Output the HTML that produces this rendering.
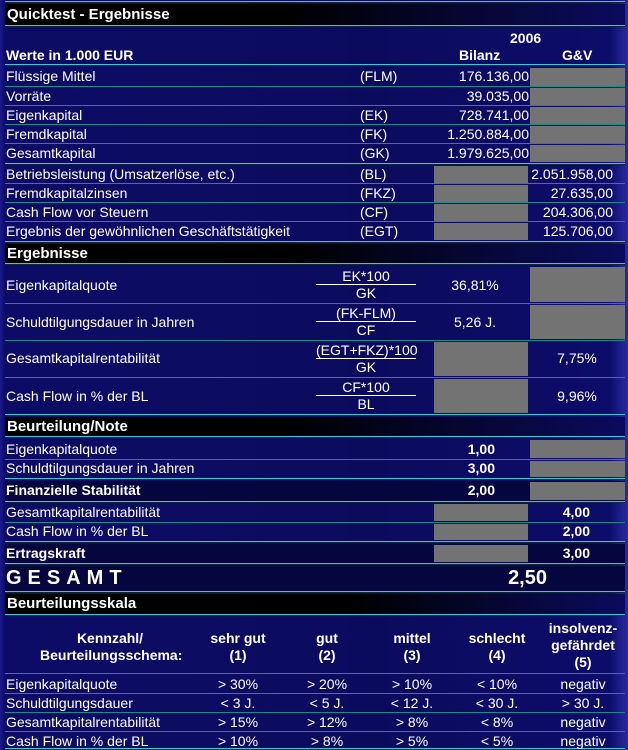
<!DOCTYPE html>
<html><head><meta charset="utf-8"><style>
*{margin:0;padding:0;box-sizing:border-box}
body{width:628px;height:750px;overflow:hidden;background:linear-gradient(90deg,#1a1a8a 0,#0c0c66 5px,#0b0b5e 60%,#0c0c6a 97%,#2a2aa0 100%);font-family:"Liberation Sans",Arial,sans-serif;color:#fff;position:relative}
div{position:absolute}
.c{left:5px;width:620px;height:2px;background:#3cc6d6;border-bottom:1px solid #06263a}
.t{left:5px;width:620px;height:1px;background:#1c8a8a}
.h{left:5px;width:620px;background:linear-gradient(90deg,#000 0,#000 45%,#0b0b5e 100%);font-weight:bold;font-size:15px;padding-left:2px}
.d{left:5px;width:620px;background:#06063e}
.l{left:6px;font-size:14px;white-space:nowrap}
.b{font-weight:bold}
.a{left:360px;font-size:14px}
.r1{right:99px;font-size:14px;text-align:right}
.r2{right:15px;font-size:14px;text-align:right}
.g{background:#737373}
.g1{left:434px;width:94px}
.g2{left:530px;width:95px}
.fr{left:316px;width:100px;text-align:center;font-size:14px;line-height:16px}
.fr span{display:block}
.fr span:first-child{border-bottom:1px solid #fff}
.cc{text-align:center;font-size:14px}
</style></head><body>
<div class="c" style="top:1px"></div>
<div class="h" style="top:4px;height:21px;line-height:21px">Quicktest - Ergebnisse</div>
<div class="c" style="top:25px"></div>
<div class="b" style="left:510px;top:30px;font-size:14px">2006</div>
<div class="b" style="left:6px;top:47px;font-size:14px">Werte in 1.000 EUR</div>
<div class="b" style="left:459px;top:47px;font-size:14px">Bilanz</div>
<div class="b" style="left:562px;top:47px;font-size:14px">G&amp;V</div>
<div class="c" style="top:64px"></div>

<!-- Bilanz rows -->
<div class="g g2" style="top:68px;height:18px"></div>
<div class="g g2" style="top:88px;height:17px"></div>
<div class="g g2" style="top:107px;height:17px"></div>
<div class="g g2" style="top:126px;height:17px"></div>
<div class="g g2" style="top:145px;height:17px"></div>
<div class="t" style="top:86px"></div><div class="t" style="top:105px"></div><div class="t" style="top:124px"></div><div class="t" style="top:143px"></div>
<div class="l" style="top:68px">Flüssige Mittel</div><div class="a" style="top:68px">(FLM)</div><div class="r1" style="top:68px">176.136,00</div>
<div class="l" style="top:88px">Vorräte</div><div class="r1" style="top:88px">39.035,00</div>
<div class="l" style="top:107px">Eigenkapital</div><div class="a" style="top:107px">(EK)</div><div class="r1" style="top:107px">728.741,00</div>
<div class="l" style="top:126px">Fremdkapital</div><div class="a" style="top:126px">(FK)</div><div class="r1" style="top:126px">1.250.884,00</div>
<div class="l" style="top:145px">Gesamtkapital</div><div class="a" style="top:145px">(GK)</div><div class="r1" style="top:145px">1.979.625,00</div>
<div class="c" style="top:163px"></div>

<div class="g g1" style="top:166px;height:17px"></div>
<div class="g g1" style="top:185px;height:17px"></div>
<div class="g g1" style="top:204px;height:17px"></div>
<div class="g g1" style="top:223px;height:17px"></div>
<div class="t" style="top:183px"></div><div class="t" style="top:202px"></div><div class="t" style="top:221px"></div>
<div class="l" style="top:166px">Betriebsleistung (Umsatzerlöse, etc.)</div><div class="a" style="top:166px">(BL)</div><div class="r2" style="top:166px">2.051.958,00</div>
<div class="l" style="top:185px">Fremdkapitalzinsen</div><div class="a" style="top:185px">(FKZ)</div><div class="r2" style="top:185px">27.635,00</div>
<div class="l" style="top:204px">Cash Flow vor Steuern</div><div class="a" style="top:204px">(CF)</div><div class="r2" style="top:204px">204.306,00</div>
<div class="l" style="top:223px">Ergebnis der gewöhnlichen Geschäftstätigkeit</div><div class="a" style="top:223px">(EGT)</div><div class="r2" style="top:223px">125.706,00</div>
<div class="c" style="top:241px"></div>

<div class="h" style="top:244px;height:19px;line-height:19px">Ergebnisse</div>
<div class="c" style="top:263px"></div>
<div class="g g2" style="top:267px;height:35px"></div>
<div class="g g2" style="top:305px;height:34px"></div>
<div class="g g1" style="top:342px;height:34px"></div>
<div class="g g1" style="top:379px;height:34px"></div>
<div class="t" style="top:303px"></div><div class="t" style="top:340px"></div><div class="t" style="top:377px"></div>
<div class="l" style="top:277px">Eigenkapitalquote</div><div class="fr" style="top:268px"><span>EK*100</span><span>GK</span></div><div class="cc" style="left:440px;width:70px;top:277px">36,81%</div>
<div class="l" style="top:314px">Schuldtilgungsdauer in Jahren</div><div class="fr" style="top:305px"><span>(FK-FLM)</span><span>CF</span></div><div class="cc" style="left:440px;width:70px;top:314px">5,26 J.</div>
<div class="l" style="top:350px">Gesamtkapitalrentabilität</div><div class="fr" style="top:342px"><span>(EGT+FKZ)*100</span><span>GK</span></div><div class="cc" style="left:542px;width:70px;top:350px">7,75%</div>
<div class="l" style="top:388px">Cash Flow in % der BL</div><div class="fr" style="top:379px"><span>CF*100</span><span>BL</span></div><div class="cc" style="left:542px;width:70px;top:388px">9,96%</div>
<div class="c" style="top:414px"></div>

<div class="h" style="top:417px;height:19px;line-height:19px">Beurteilung/Note</div>
<div class="c" style="top:436px"></div>
<div class="g g2" style="top:440px;height:18px"></div>
<div class="g g2" style="top:461px;height:16px"></div>
<div class="t" style="top:459px"></div>
<div class="l" style="top:441px">Eigenkapitalquote</div><div class="r1 b" style="right:133px;top:441px">1,00</div>
<div class="l" style="top:460px">Schuldtilgungsdauer in Jahren</div><div class="r1 b" style="right:133px;top:460px">3,00</div>
<div class="c" style="top:478px"></div>
<div class="d" style="top:481px;height:20px"></div>
<div class="g g2" style="top:482px;height:18px"></div>
<div class="l b" style="top:482px">Finanzielle Stabilität</div><div class="r1 b" style="right:133px;top:482px">2,00</div>
<div class="c" style="top:501px"></div>

<div class="g g1" style="top:504px;height:17px"></div>
<div class="g g1" style="top:524px;height:16px"></div>
<div class="t" style="top:522px"></div>
<div class="l" style="top:504px">Gesamtkapitalrentabilität</div><div class="r2 b" style="right:38px;top:504px">4,00</div>
<div class="l" style="top:523px">Cash Flow in % der BL</div><div class="r2 b" style="right:38px;top:523px">2,00</div>
<div class="c" style="top:541px"></div>
<div class="d" style="top:544px;height:19px"></div>
<div class="g g1" style="top:545px;height:17px"></div>
<div class="l b" style="top:545px">Ertragskraft</div><div class="r2 b" style="right:38px;top:545px">3,00</div>
<div class="c" style="top:563px"></div>
<div class="d" style="top:566px;height:25px"></div>
<div class="b" style="left:6px;top:567px;font-size:20px;letter-spacing:6px">GESAMT</div>
<div class="b" style="right:81px;top:567px;font-size:20px">2,50</div>
<div class="c" style="top:591px"></div>
<div class="h" style="top:594px;height:20px;line-height:20px;background:linear-gradient(90deg,#000 0,#000 55%,#0b0b5e 100%)">Beurteilungsskala</div>
<div class="c" style="top:614px"></div>

<div class="b cc" style="left:40px;width:140px;top:630px;line-height:17px">Kennzahl/<br>Beurteilungsschema:</div>
<div class="b cc" style="left:203px;width:70px;top:630px;line-height:17px">sehr gut<br>(1)</div>
<div class="b cc" style="left:292px;width:70px;top:630px;line-height:17px">gut<br>(2)</div>
<div class="b cc" style="left:377px;width:70px;top:630px;line-height:17px">mittel<br>(3)</div>
<div class="b cc" style="left:462px;width:70px;top:630px;line-height:17px">schlecht<br>(4)</div>
<div class="b cc" style="left:538px;width:90px;top:620px;line-height:17px">insolvenz-<br>gefährdet<br>(5)</div>
<div class="t" style="top:673px"></div>
<div class="t" style="top:693px"></div><div class="t" style="top:712px"></div><div class="t" style="top:731px"></div>
<div class="c" style="top:748px"></div>

<div class="l" style="top:676px">Eigenkapitalquote</div>
<div class="cc" style="left:203px;width:70px;top:676px">&gt; 30%</div><div class="cc" style="left:292px;width:70px;top:676px">&gt; 20%</div><div class="cc" style="left:377px;width:70px;top:676px">&gt; 10%</div><div class="cc" style="left:462px;width:70px;top:676px">&lt; 10%</div><div class="cc" style="left:548px;width:70px;top:676px">negativ</div>
<div class="l" style="top:695px">Schuldtilgungsdauer</div>
<div class="cc" style="left:203px;width:70px;top:695px">&lt; 3 J.</div><div class="cc" style="left:292px;width:70px;top:695px">&lt; 5 J.</div><div class="cc" style="left:377px;width:70px;top:695px">&lt; 12 J.</div><div class="cc" style="left:462px;width:70px;top:695px">&lt; 30 J.</div><div class="cc" style="left:548px;width:70px;top:695px">&gt; 30 J.</div>
<div class="l" style="top:714px">Gesamtkapitalrentabilität</div>
<div class="cc" style="left:203px;width:70px;top:714px">&gt; 15%</div><div class="cc" style="left:292px;width:70px;top:714px">&gt; 12%</div><div class="cc" style="left:377px;width:70px;top:714px">&gt; 8%</div><div class="cc" style="left:462px;width:70px;top:714px">&lt; 8%</div><div class="cc" style="left:548px;width:70px;top:714px">negativ</div>
<div class="l" style="top:733px">Cash Flow in % der BL</div>
<div class="cc" style="left:203px;width:70px;top:733px">&gt; 10%</div><div class="cc" style="left:292px;width:70px;top:733px">&gt; 8%</div><div class="cc" style="left:377px;width:70px;top:733px">&gt; 5%</div><div class="cc" style="left:462px;width:70px;top:733px">&lt; 5%</div><div class="cc" style="left:548px;width:70px;top:733px">negativ</div>
</body></html>
